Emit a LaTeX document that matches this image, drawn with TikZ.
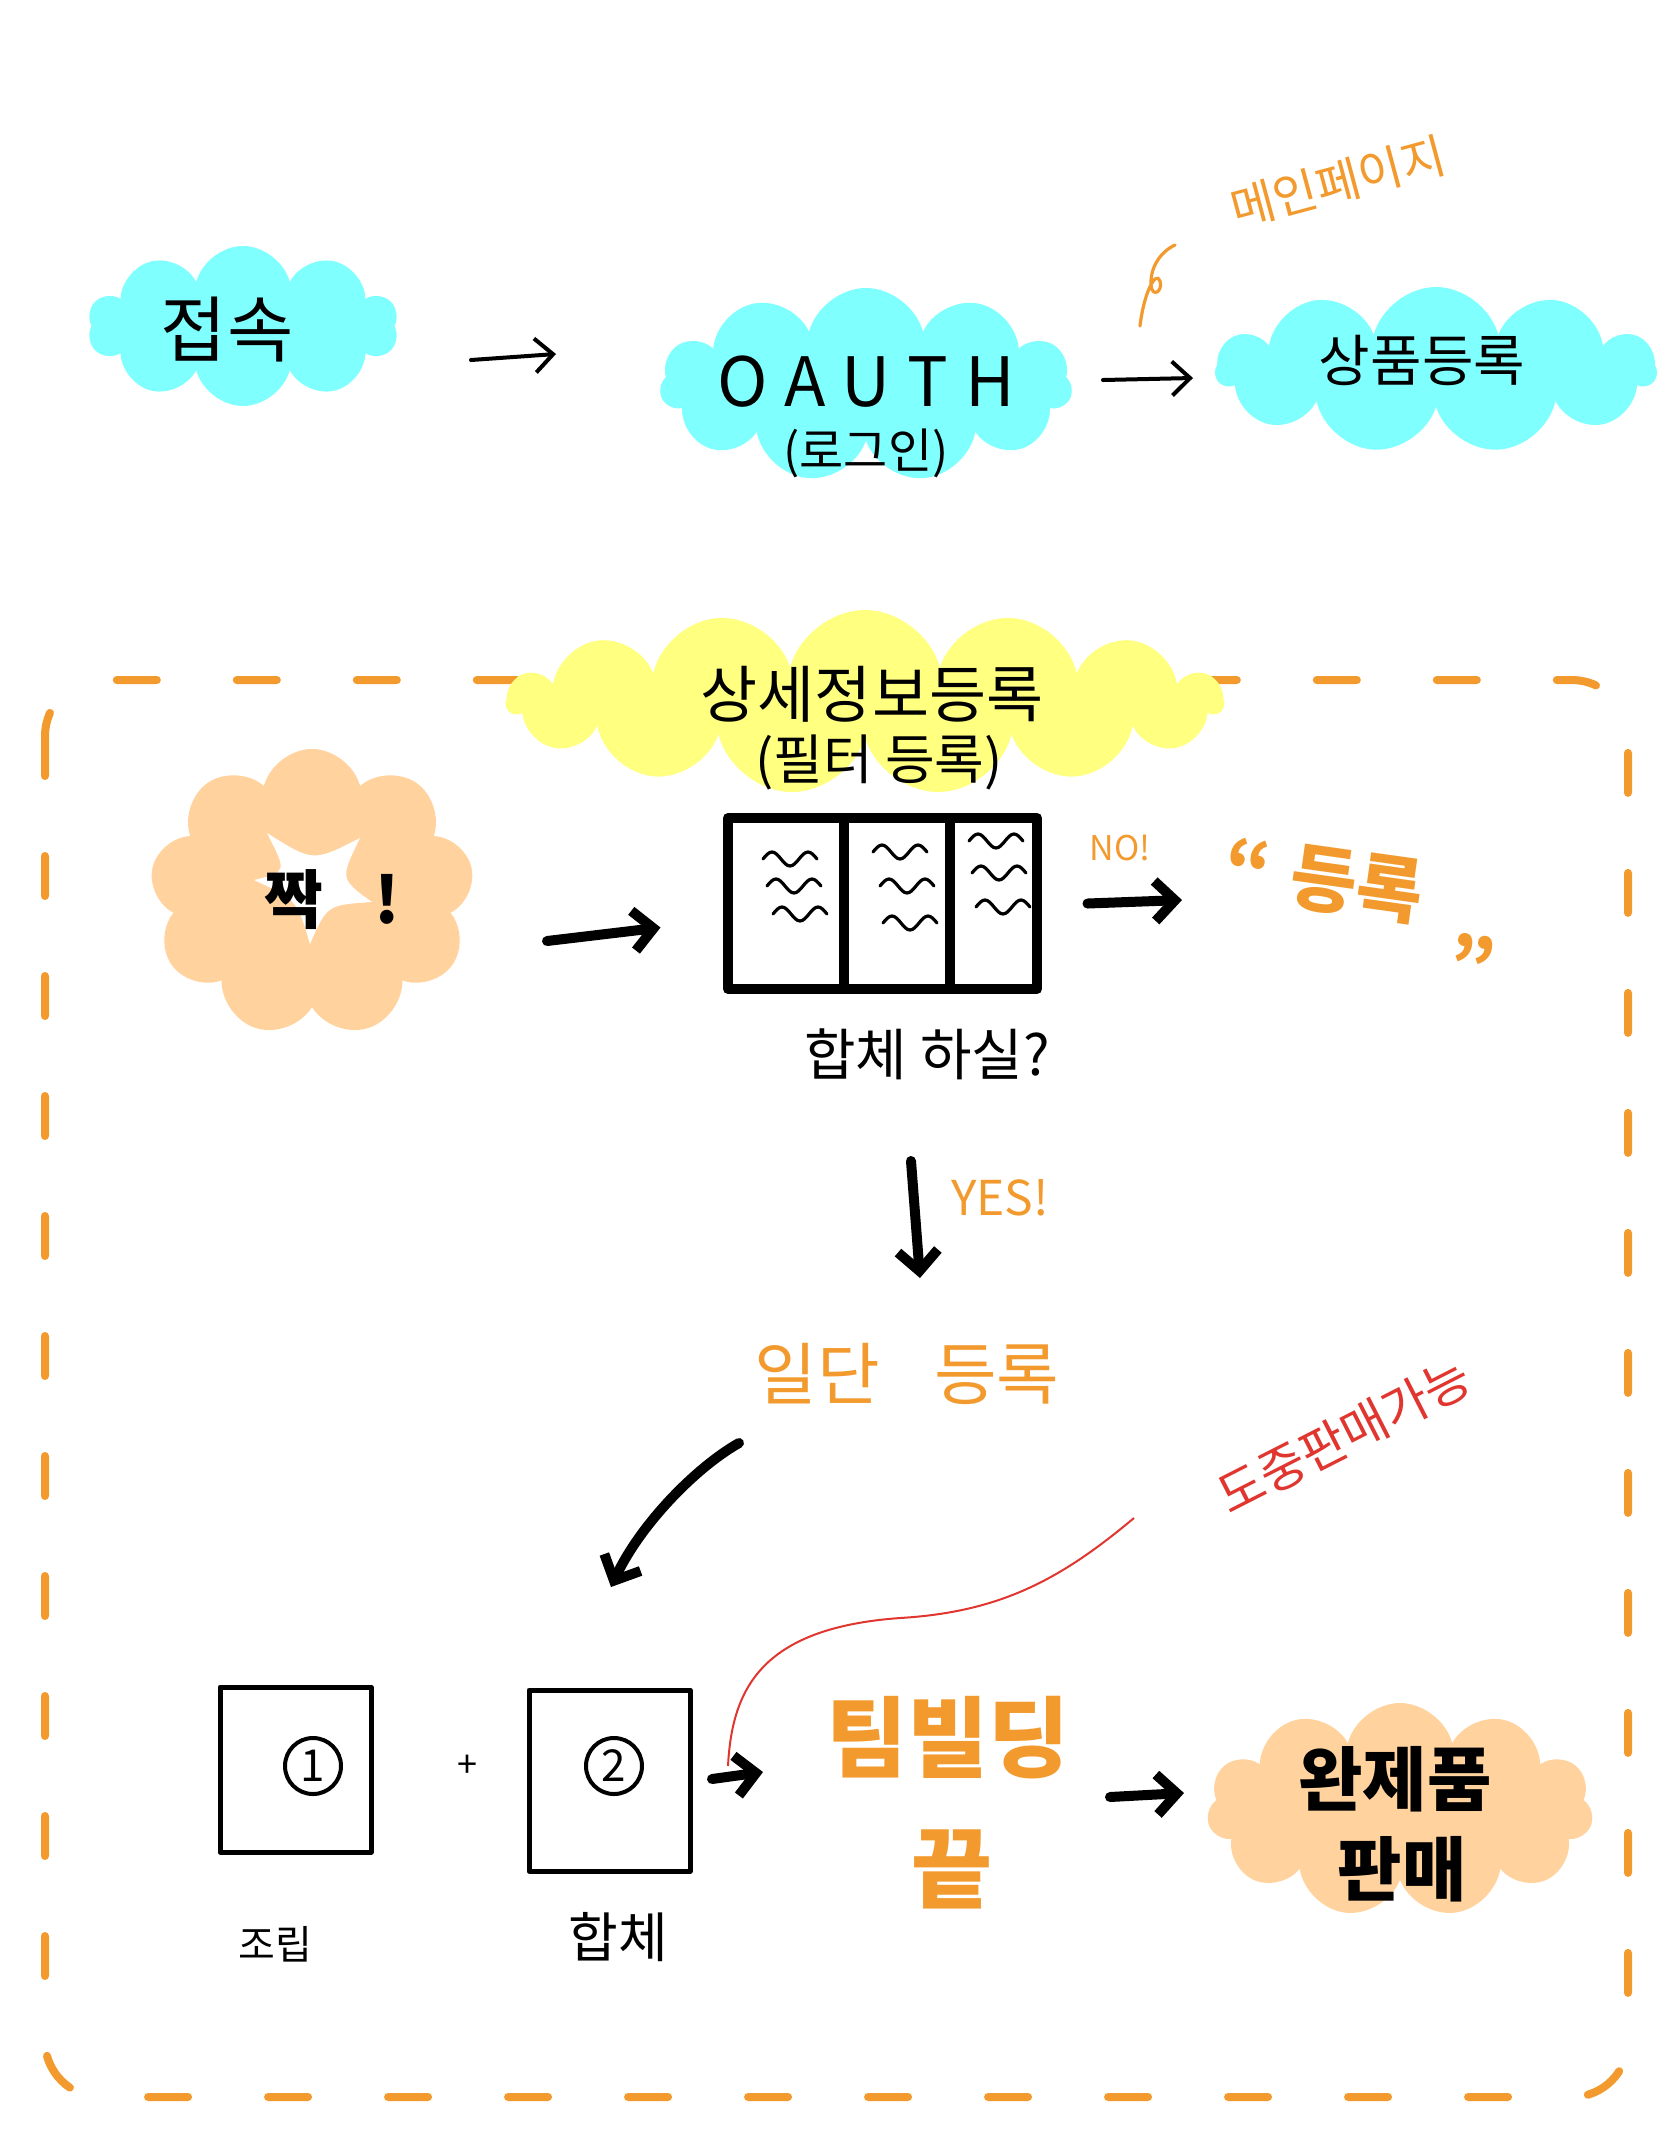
\documentclass[tikz,border=0pt]{standalone}
\usepackage{fontspec}
\newfontfamily\kr{Noto Sans CJK KR}
\usetikzlibrary{shapes.symbols,arrows.meta,calc}
\definecolor{skyc}{HTML}{80FFFF}
\definecolor{lemon}{HTML}{FFFF80}
\definecolor{peach}{HTML}{FFD29E}
\definecolor{tang}{HTML}{F29A2E}
\definecolor{redl}{HTML}{E0362F}
\newcommand\kfs[1]{\fontsize{#1}{#1}\selectfont}
\tikzset{
  cloudbg/.style={cloud, cloud ignores aspect, draw=none, inner sep=0pt},
  lbl/.style={inner sep=0pt},
  thinarr/.style={line width=2pt, line cap=round, line join=round, -{Straight Barb[length=9pt,width=17pt]}},
  thickarr/.style={line width=5pt, line cap=round, line join=round, -{Straight Barb[length=10pt,width=20pt]}},
  wigstyle/.style={line width=1.6pt, line cap=round},
  boxstyle/.style={draw, line width=2.5pt, inner sep=0pt, line join=round},
  numcirc/.style={draw, circle, line width=2pt, minimum size=28pt, inner sep=0pt, font=\kr\kfs{22}}
}
\newcommand\wig[2]{\draw[wigstyle] (#1-27,#2) sin ++(9,-7) cos ++(9,7) sin ++(9,7) cos ++(9,-7) sin ++(9,-7) cos ++(9,7);}
\begin{document}
\begin{tikzpicture}[x=0.5pt,y=-0.5pt]
\useasboundingbox (0,0) rectangle (1668,2154);

% top row
\node[cloudbg, cloud puffs=10, fill=skyc, minimum width=155pt, minimum height=80pt] (c1) at (243,326) {};
\node[lbl, font=\kr\kfs{36}] (t1) at (227,330) {접속};
\node[cloudbg, cloud puffs=11, fill=skyc, minimum width=206pt, minimum height=97pt] (c2) at (866,385) {};
\node[lbl, font=\kr\kfs{34}] (t2) at (866,382) {\addfontfeature{LetterSpace=25}OAUTH};
\node[lbl, font=\kr\kfs{24}] (t2b) at (866,453) {(로그인)};
\node[cloudbg, cloud puffs=11, fill=skyc, minimum width=220pt, minimum height=83pt] (c3) at (1436,370) {};
\node[lbl, font=\kr\kfs{28}] (t3) at (1422,360) {상품등록};
\node[lbl, font=\kr\kfs{24}, text=tang, rotate=15] (mp) at (1338,182) {메인페이지};

\draw[thinarr] ([shift={(228,34)}]c1.center) -- ([shift={(-310,-31)}]c2.center);
\draw[thinarr] ([shift={(237,-5)}]c2.center) -- ([shift={(-243,8)}]c3.center);
\draw[tang, line width=1.6pt, line cap=round] ([shift={(-163,63)}]mp.center)
  .. controls (1160,252) and (1150,268) .. (1151,285)
  .. controls (1152,298) and (1163,292) .. (1160,281)
  .. controls (1156,270) and (1144,292) .. (1140,326);

% dashed frame
\draw[tang, line width=4pt, line cap=round, dash pattern=on 20pt off 40pt, rounded corners=28pt] (45,680) rectangle (1628,2097);

% yellow cloud
\node[cloudbg, cloud puffs=15, fill=lemon, minimum width=358pt, minimum height=92pt] (c4) at (865,702) {};
\node[lbl, font=\kr\kfs{31}] (t4) at (872,694) {상세정보등록};
\node[lbl, font=\kr\kfs{27}] (t4b) at (879,762) {(필터 등록)};

% peach burst
\node[cloudbg, cloud puffs=9, fill=peach, minimum width=162pt, minimum height=144pt] (c5) at (312,893) {};
\fill[white] (267,833) .. controls (313,862) .. (360,838) .. controls (340,879) .. (372,902)
  .. controls (327,905) .. (310,944) .. controls (297,900) .. (254,880) .. controls (287,872) .. (267,833);
\node[lbl, font=\kr\bfseries\kfs{32}] (t5) at (332,900) {짝\hspace{0.8em}!};

% table
\node[draw, line width=5pt, line join=round, minimum width=154.5pt, minimum height=85.5pt, inner sep=0pt] (tb) at (882.5,903.5) {};
\draw[line width=5pt] ([shift={(121,0)}]tb.north west) -- ([shift={(121,0)}]tb.south west);
\draw[line width=5pt] ([shift={(227,0)}]tb.north west) -- ([shift={(227,0)}]tb.south west);
\wig{790}{859}\wig{794}{886}\wig{800}{914}
\wig{900}{852}\wig{907}{886}\wig{910}{923}
\wig{996}{841}\wig{999}{873}\wig{1003}{907}
\node[lbl, font=\kr\kfs{28}] (q) at (927,1054) {합체 하실?};
\node[lbl, font=\kr\kfs{17}, text=tang] (no) at (1120,848) {NO!};
\node[lbl, font=\kr\bfseries\kfs{36}, text=tang, rotate=-8] (reg) at (1360,914) {“\hspace{0.3em}등록\hspace{0.5em}\raisebox{-0.9em}{”}};

\draw[thickarr] ([shift={(235,48)}]c5.center) -- ([shift={(-222,24)}]tb.center);
\draw[thickarr] ([shift={(205,0)}]tb.center) -- ([shift={(-178,-14)}]reg.center);

% middle
\node[lbl, font=\kr\kfs{24}, text=tang] (yes) at (1000,1198) {YES!};
\node[lbl, font=\kr\kfs{34}, text=tang] (ild) at (907,1374) {일단\hspace{0.8em}등록};
\node[lbl, font=\kr\kfs{25}, text=redl, rotate=27] (dj) at (1344,1436) {도중판매가능};
\draw[thickarr] ([shift={(-16,107)}]q.center) -- ([shift={(13,-96)}]ild.center);
\coordinate (split) at (611,1587);
\draw[thickarr] ([shift={(-168,69)}]ild.center) .. controls (695,1468) and (640,1525) .. (split);

% bottom
\node[boxstyle, minimum width=75.5pt, minimum height=82.5pt] (b1) at (295.5,1769.5) {};
\node[numcirc] (n1) at (313,1766) {1};
\node[lbl, font=\kr\kfs{18}] (plus) at (467,1766) {+};
\node[boxstyle, minimum width=80.5pt, minimum height=90.5pt] (b2) at (609.5,1780.5) {};
\node[numcirc] (n2) at (614,1766) {2};
\node[lbl, font=\kr\kfs{20}] (jr) at (275,1944) {조립};
\node[lbl, font=\kr\kfs{27}] (hc) at (618,1937) {합체};
\node[lbl, font=\kr\bfseries\kfs{44}, text=tang] (tbd) at (948,1738) {팀빌딩};
\node[lbl, font=\kr\bfseries\kfs{44}, text=tang] (kk) at (952,1869) {끝};
\node[cloudbg, cloud puffs=11, fill=peach, minimum width=193pt, minimum height=107pt] (c6) at (1400,1810) {};
\node[lbl, font=\kr\bfseries\kfs{35}] (w1) at (1395,1779) {완제품};
\node[lbl, font=\kr\bfseries\kfs{35}] (w2) at (1402,1869) {판매};

\draw[thickarr] ([shift={(102.5,-1.5)}]b2.center) -- ([shift={(-185,34)}]tbd.center);
\draw[thickarr] ([shift={(162,59)}]tbd.center) -- ([shift={(-216,-17)}]c6.center);
\draw[redl, line width=1pt] ([shift={(-210,82)}]dj.center)
  .. controls (1060,1580) and (1000,1612) .. (900,1618)
  .. controls (760,1628) and (732,1690) .. ([shift={(118.5,-14.5)}]b2.center);
\end{tikzpicture}
\end{document}
